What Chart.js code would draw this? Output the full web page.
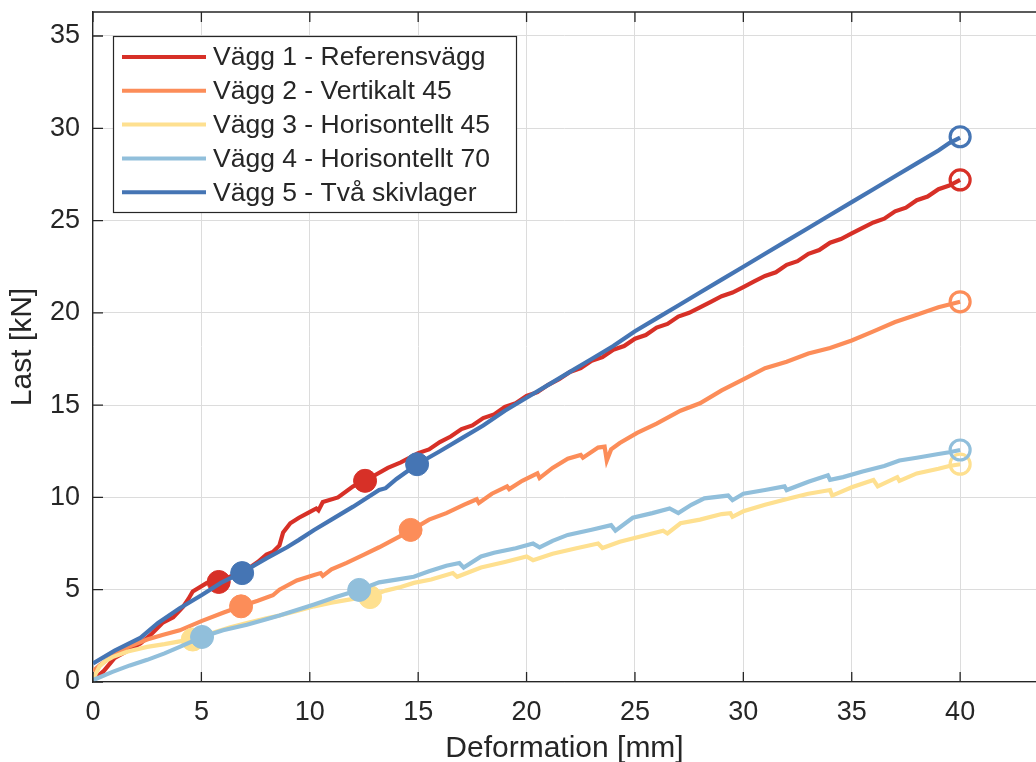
<!DOCTYPE html>
<html>
<head>
<meta charset="utf-8">
<title>Last - Deformation</title>
<script src="https://cdn.jsdelivr.net/npm/chart.js"></script>
<style>
  html, body { margin: 0; padding: 0; background: #fff; }
  #wrap { width: 1036px; height: 762px; }
</style>
</head>
<body>
<div id="wrap"><canvas id="chart" width="1036" height="762"></canvas></div>
<script>
// Series names (legend order)
const seriesNames = [
  'Vägg 1 - Referensvägg',
  'Vägg 2 - Vertikalt 45',
  'Vägg 3 - Horisontellt 45',
  'Vägg 4 - Horisontellt 70',
  'Vägg 5 - Två skivlager'
];
const seriesColors = ['#d73027', '#fc8d59', '#fee090', '#91bfdb', '#4575b4'];

// [deformation mm, load kN]
const wall1 = [[0,0.1],[0.5,0.6],[1,1.3],[1.6,1.7],[2.2,2.1],[2.7,2.6],[3.2,3.2],[3.7,3.5],[4.15,4.07],[4.4,4.5],[4.6,4.9],[5.26,5.37],[5.8,5.45],[6.4,5.75],[7.1,6.1],[7.6,6.5],[8.0,6.9],[8.3,7.05],[8.6,7.4],[8.77,8.1],[9.1,8.6],[9.5,8.9],[9.9,9.15],[10.3,9.4],[10.4,9.3],[10.6,9.75],[11.3,10.0],[12.0,10.6],[12.55,10.9],[13.0,11.2],[13.6,11.6],[14.2,11.9],[15.0,12.4],[15.5,12.6],[16.0,13.0],[16.5,13.3],[17,13.7],[17.5,13.9],[18,14.3],[18.5,14.5],[19,14.9],[19.5,15.1],[20,15.5],[20.5,15.7],[21,16.1],[21.5,16.4],[22,16.8],[22.5,17.0],[23,17.4],[23.5,17.6],[24,18.0],[24.5,18.2],[25,18.6],[25.5,18.8],[26,19.2],[26.5,19.4],[27,19.8],[27.5,20.0],[28,20.3],[28.5,20.6],[29,20.9],[29.5,21.1],[30,21.4],[30.5,21.7],[31,22.0],[31.5,22.2],[32,22.6],[32.5,22.8],[33,23.2],[33.5,23.4],[34,23.8],[34.5,24.0],[35,24.3],[35.5,24.6],[36,24.9],[36.5,25.1],[37,25.5],[37.5,25.7],[38,26.1],[38.5,26.3],[39,26.7],[39.5,26.9],[40,27.2]];
const wall2 = [[0,0.6],[0.3,0.9],[0.9,1.4],[1.6,1.9],[2.5,2.3],[3.2,2.55],[4.0,2.8],[5,3.3],[6,3.75],[6.83,4.1],[7.6,4.4],[8.3,4.7],[8.6,5.0],[9.4,5.5],[10.2,5.8],[10.5,5.9],[10.6,5.75],[11.0,6.1],[11.7,6.45],[12.5,6.9],[13.2,7.3],[14,7.8],[14.65,8.2],[15.5,8.8],[16.3,9.15],[17.1,9.6],[17.7,9.9],[17.8,9.7],[18.4,10.2],[19.1,10.6],[19.2,10.45],[19.8,10.9],[20.5,11.3],[20.6,11.05],[21.2,11.6],[21.9,12.1],[22.5,12.3],[22.6,12.15],[23.3,12.7],[23.6,12.75],[23.7,12.0],[23.9,12.6],[24.3,12.95],[25.1,13.5],[26.0,14.0],[27.1,14.7],[28,15.1],[29,15.8],[30,16.4],[31,17.0],[32,17.35],[33,17.8],[34,18.1],[35,18.5],[36,19.0],[37,19.5],[38,19.9],[39,20.3],[40,20.6]];
const wall3 = [[0,0.1],[0.15,0.5],[0.3,0.85],[0.6,1.15],[0.9,1.35],[1.6,1.65],[2.5,1.9],[3.3,2.05],[4.0,2.2],[4.57,2.3],[5.5,2.65],[6.3,2.95],[7.1,3.2],[8.0,3.45],[8.6,3.6],[9.4,3.85],[10.2,4.1],[11,4.3],[12,4.5],[12.78,4.65],[13.5,4.95],[14.2,5.15],[14.8,5.37],[15.6,5.55],[16.6,5.9],[16.8,5.7],[17.9,6.2],[19,6.5],[20.0,6.8],[20.3,6.6],[21.2,6.95],[22.3,7.25],[23.3,7.5],[23.5,7.26],[24.3,7.6],[25.3,7.9],[26.3,8.2],[26.5,8.05],[27.1,8.6],[28,8.8],[29,9.1],[29.4,9.15],[29.5,8.95],[30,9.25],[31,9.6],[32.2,9.97],[33,10.2],[34.0,10.4],[34.1,10.1],[35,10.55],[36.0,10.95],[36.2,10.6],[37.1,11.1],[37.2,10.9],[38,11.3],[39,11.55],[39.5,11.7],[40,11.8]];
const wall4 = [[0,0.1],[0.9,0.55],[1.7,0.9],[2.5,1.2],[3.3,1.55],[4.0,1.9],[5.03,2.44],[6,2.8],[7.1,3.1],[8,3.4],[8.6,3.6],[9.4,3.9],[10.2,4.2],[11.2,4.6],[12.3,5.0],[13.2,5.4],[14,5.55],[14.8,5.7],[15.5,6.0],[16.3,6.3],[16.9,6.45],[17.1,6.2],[17.9,6.8],[18.5,7.0],[19.5,7.25],[20.3,7.5],[20.6,7.3],[21.2,7.65],[21.9,7.97],[23,8.25],[23.9,8.5],[24.1,8.2],[24.9,8.9],[25.8,9.15],[26.6,9.4],[27.0,9.15],[27.6,9.6],[28.2,9.95],[29.3,10.1],[29.5,9.85],[30,10.2],[31,10.4],[31.9,10.6],[32.0,10.4],[33,10.85],[33.9,11.2],[34.0,10.95],[34.6,11.1],[35.5,11.4],[36.5,11.7],[37.2,12.0],[38,12.15],[39,12.35],[39.5,12.45],[40,12.57]];
const wall5 = [[0,1.0],[1,1.7],[2.2,2.4],[3,3.2],[4,4.0],[5,4.7],[5.9,5.37],[6.9,5.95],[8,6.7],[8.95,7.3],[9.5,7.7],[10.2,8.24],[11,8.8],[12,9.5],[13.2,10.4],[13.5,10.5],[14,11.0],[14.95,11.8],[16,12.5],[17,13.2],[18,13.9],[19,14.7],[20,15.4],[21,16.1],[22,16.8],[23,17.5],[24,18.2],[25,19.0],[26,19.7],[27,20.4],[28,21.1],[29,21.8],[30,22.5],[31,23.2],[32,23.9],[33,24.6],[34,25.3],[35,26.0],[36,26.7],[37,27.4],[38,28.1],[39,28.8],[39.5,29.2],[40,29.5]];

// filled markers (two per wall) and open end markers
const wall1Marks = [[5.8,5.42],[12.55,10.9]];
const wall2Marks = [[6.83,4.1],[14.65,8.24]];
const wall3Marks = [[4.6,2.3],[12.78,4.6]];
const wall4Marks = [[5.03,2.44],[12.28,4.99]];
const wall5Marks = [[6.88,5.9],[14.95,11.8]];
const endMarks = [[40,27.2],[40,20.6],[40,11.8],[40,12.57],[40,29.54]];

const xTicks = [0, 5, 10, 15, 20, 25, 30, 35, 40];
const yTicks = [0, 5, 10, 15, 20, 25, 30, 35];

const FONT = "'Liberation Sans', Arial, Helvetica, sans-serif";
const INK = '#262626';

const lines = [wall1, wall2, wall3, wall4, wall5];
const marks = [wall1Marks, wall2Marks, wall3Marks, wall4Marks, wall5Marks];
const toXY = arr => arr.map(p => ({ x: p[0], y: p[1] }));

const datasets = [];
lines.forEach((ln, i) => {
  // later walls are drawn on top (higher order is drawn first)
  datasets.push({
    label: seriesNames[i],
    data: toXY(ln),
    showLine: true,
    borderColor: seriesColors[i],
    borderWidth: 4.2,
    pointRadius: 0,
    tension: 0,
    order: 30 - i * 3
  });
  datasets.push({
    label: seriesNames[i] + ' punkter',
    data: toXY(marks[i]),
    showLine: false,
    pointRadius: 11.5,
    pointBackgroundColor: seriesColors[i],
    pointBorderColor: seriesColors[i],
    pointBorderWidth: 1,
    order: 29 - i * 3
  });
  datasets.push({
    label: seriesNames[i] + ' brott',
    data: toXY([endMarks[i]]),
    showLine: false,
    pointRadius: 10,
    pointBackgroundColor: 'rgba(0,0,0,0)',
    pointBorderColor: seriesColors[i],
    pointBorderWidth: 3.2,
    order: 28 - i * 3
  });
});

// box on top, inward ticks, legend inside axes
const matlabFrame = {
  id: 'matlabFrame',
  afterDatasetsDraw(chart) {
    const { ctx, chartArea: a, scales } = chart;
    ctx.save();
    ctx.strokeStyle = INK;
    ctx.lineWidth = 1.3;
    ctx.beginPath();
    ctx.moveTo(a.left, a.top);
    ctx.lineTo(a.right, a.top);
    xTicks.forEach(t => {
      const px = scales.x.getPixelForValue(t);
      ctx.moveTo(px, a.bottom);
      ctx.lineTo(px, a.bottom - 10);
      ctx.moveTo(px, a.top);
      ctx.lineTo(px, a.top + 10);
    });
    yTicks.forEach(t => {
      const py = scales.y.getPixelForValue(t);
      ctx.moveTo(a.left, py);
      ctx.lineTo(a.left + 10, py);
    });
    ctx.stroke();
    ctx.restore();
  },
  afterDraw(chart) {
    const { ctx, chartArea: a } = chart;
    const left = a.left + 20, top = a.top + 24, w = 403, h = 176;
    ctx.save();
    ctx.fillStyle = '#fff';
    ctx.fillRect(left, top, w, h);
    ctx.strokeStyle = INK;
    ctx.lineWidth = 1.2;
    ctx.strokeRect(left + 0.5, top + 0.5, w, h);
    ctx.font = '26.5px ' + FONT;
    ctx.textBaseline = 'middle';
    ctx.textAlign = 'left';
    seriesNames.forEach((name, i) => {
      const y = top + 21 + i * 33.8;
      ctx.strokeStyle = seriesColors[i];
      ctx.lineWidth = 4;
      ctx.beginPath();
      ctx.moveTo(left + 9, y);
      ctx.lineTo(left + 93, y);
      ctx.stroke();
      ctx.fillStyle = INK;
      ctx.fillText(name, left + 100, y + 1);
    });
    ctx.restore();
  }
};

new Chart(document.getElementById('chart'), {
  type: 'scatter',
  data: { datasets },
  plugins: [matlabFrame],
  options: {
    responsive: false,
    animation: false,
    layout: { autoPadding: false, padding: { top: 12, left: 0, right: 0, bottom: 0 } },
    plugins: { legend: { display: false }, tooltip: { enabled: false } },
    scales: {
      x: {
        type: 'linear',
        min: 0,
        max: 43.5,
        afterFit(s) { s.height = 80; s.paddingLeft = 0; s.paddingRight = 0; },
        afterBuildTicks(s) { s.ticks = xTicks.map(v => ({ value: v })); },
        ticks: { stepSize: 5, includeBounds: false, color: INK, font: { family: FONT, size: 27 }, padding: 14, maxRotation: 0 },
        grid: { color: '#dcdcdc', lineWidth: 1, drawTicks: false },
        border: { display: true, color: INK, width: 1.3 },
        title: { display: true, text: 'Deformation [mm]', color: INK, font: { family: FONT, size: 30, lineHeight: 0.9 }, padding: 0 }
      },
      y: {
        type: 'linear',
        min: 0,
        max: 36.3,
        afterFit(s) { s.width = 93; s.paddingTop = 0; s.paddingBottom = 0; },
        afterBuildTicks(s) { s.ticks = yTicks.map(v => ({ value: v })); },
        ticks: { stepSize: 5, includeBounds: false, color: INK, font: { family: FONT, size: 27 }, padding: 13 },
        grid: { color: '#dcdcdc', lineWidth: 1, drawTicks: false },
        border: { display: true, color: INK, width: 1.3 },
        title: { display: true, text: 'Last [kN]', color: INK, font: { family: FONT, size: 30 }, padding: { top: 5, bottom: 0 } }
      }
    }
  }
});
</script>
</body>
</html>
